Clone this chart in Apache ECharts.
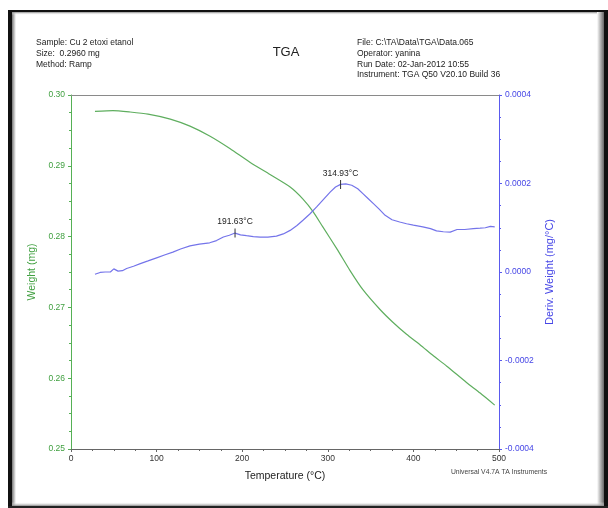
<!DOCTYPE html>
<html>
<head>
<meta charset="utf-8">
<script src="https://cdn.jsdelivr.net/npm/echarts@6/dist/echarts.min.js"></script>
<style>
html,body{margin:0;padding:0;background:#fff;}
#chart{width:608px;height:508px;}
</style>
</head>
<body>
<div id="chart"></div>
<script>
// ---- data ----
var weightTemps = [28, 49, 69, 90, 116, 139, 162, 186, 209, 232, 256, 271, 283, 294, 311, 326, 341, 361, 376, 392, 408, 423, 439, 462, 478, 495];
var weightMg    = [0.2977, 0.2978, 0.2976, 0.2973, 0.2966, 0.2956, 0.2942, 0.2924, 0.2905, 0.2888, 0.2870, 0.2853, 0.2835, 0.2814, 0.2782, 0.2752, 0.2725, 0.2697, 0.2679, 0.2662, 0.2647, 0.2632, 0.2617, 0.2594, 0.2579, 0.2562];

var derivTemps = [28, 34, 40, 46, 48, 50, 55, 60, 65, 73, 81, 90, 100, 110, 119, 128, 139, 150, 162, 170, 178, 185, 191.63, 198, 205, 213, 221, 230, 240, 248, 256, 264, 271, 279, 287, 295, 303, 309, 315, 321, 328, 335, 341, 347, 353, 360, 367, 375, 384, 392, 400, 411, 420, 427, 435, 443, 451, 460, 470, 478, 484, 490, 492, 495];
var derivVals  = [-0.05e-4, -0.01e-4, 0.00e-4, 0.00e-4, 0.01e-4, 0.07e-4, 0.02e-4, 0.03e-4, 0.08e-4, 0.13e-4, 0.19e-4, 0.25e-4, 0.32e-4, 0.39e-4, 0.45e-4, 0.52e-4, 0.59e-4, 0.63e-4, 0.66e-4, 0.71e-4, 0.79e-4, 0.83e-4, 0.88e-4, 0.84e-4, 0.82e-4, 0.80e-4, 0.79e-4, 0.79e-4, 0.81e-4, 0.86e-4, 0.94e-4, 1.05e-4, 1.17e-4, 1.31e-4, 1.47e-4, 1.64e-4, 1.81e-4, 1.92e-4, 1.98e-4, 1.99e-4, 1.96e-4, 1.88e-4, 1.77e-4, 1.66e-4, 1.55e-4, 1.42e-4, 1.28e-4, 1.18e-4, 1.13e-4, 1.09e-4, 1.06e-4, 1.02e-4, 0.98e-4, 0.93e-4, 0.91e-4, 0.90e-4, 0.96e-4, 0.96e-4, 0.98e-4, 0.99e-4, 1.00e-4, 1.03e-4, 1.06e-4, 1.02e-4];

var peakTemps  = [191.63, 314.93];
var peakDerivs = [0.88e-4, 1.98e-4];
var peakLabels = ['191.63°C', '314.93°C'];

var headerLeft  = ['Sample: Cu 2 etoxi etanol', 'Size:  0.2960 mg', 'Method: Ramp'];
var headerRight = ['File: C:\\TA\\Data\\TGA\\Data.065', 'Operator: yanina', 'Run Date: 02-Jan-2012 10:55', 'Instrument: TGA Q50 V20.10 Build 36'];
var chartTitle  = 'TGA';
var footerText  = 'Universal V4.7A TA Instruments';
var xName = 'Temperature (°C)';
var yLeftName = 'Weight (mg)';
var yRightName = 'Deriv. Weight (mg/°C)';

// ---- build ----
var weightData = weightTemps.map(function (t, i) { return [t, weightMg[i]]; });
var derivData = derivTemps.map(function (t, i) { return [t, derivVals[i]]; });
var peakPoints = peakTemps.map(function (t, i) {
  return { name: peakLabels[i], coord: [t, peakDerivs[i]] };
});

var FONT = 'Liberation Sans, Arial, sans-serif';
var GREEN = '#3f9f3f';
var BLUE = '#4646e6';

function txt(x, y, s, size, color, align) {
  return {
    type: 'text', x: x, y: y, silent: true, z: 100,
    style: { text: s, font: size + 'px ' + FONT, fill: color, align: align || 'left', textAlign: align || 'left', verticalAlign: 'middle', textVerticalAlign: 'middle' }
  };
}

var graphics = [];
// frame
graphics.push({ type: 'rect', shape: { x: 8, y: 10, width: 600, height: 2 }, style: { fill: '#111' }, silent: true });
graphics.push({ type: 'rect', shape: { x: 8, y: 10, width: 4, height: 498 }, style: { fill: '#111' }, silent: true });
graphics.push({ type: 'rect', shape: { x: 604, y: 10, width: 4, height: 498 }, style: { fill: '#111' }, silent: true });
graphics.push({ type: 'rect', shape: { x: 8, y: 506, width: 600, height: 2 }, style: { fill: '#222' }, silent: true });
graphics.push({ type: 'rect', shape: { x: 12, y: 12, width: 4, height: 494 }, silent: true,
  style: { fill: new echarts.graphic.LinearGradient(0, 0, 1, 0, [{ offset: 0, color: '#777' }, { offset: 1, color: '#fff' }]) } });
graphics.push({ type: 'rect', shape: { x: 12, y: 12, width: 592, height: 3 }, silent: true,
  style: { fill: new echarts.graphic.LinearGradient(0, 0, 0, 1, [{ offset: 0, color: '#888' }, { offset: 1, color: 'rgba(255,255,255,0)' }]) } });
graphics.push({ type: 'rect', shape: { x: 597, y: 12, width: 7, height: 494 }, silent: true,
  style: { fill: new echarts.graphic.LinearGradient(0, 0, 1, 0, [{ offset: 0, color: '#fff' }, { offset: 1, color: '#666' }]) } });
graphics.push({ type: 'rect', shape: { x: 12, y: 502, width: 592, height: 4 }, silent: true,
  style: { fill: new echarts.graphic.LinearGradient(0, 0, 0, 1, [{ offset: 0, color: 'rgba(255,255,255,0)' }, { offset: 1, color: '#888' }]) } });

headerLeft.forEach(function (s, i) { graphics.push(txt(36, 42.5 + i * 11, s, 8.5, '#222')); });
headerRight.forEach(function (s, i) { graphics.push(txt(357, 43 + i * 10.7, s, 8.5, '#222')); });
graphics.push(txt(286, 52, chartTitle, 13, '#222', 'center'));
graphics.push(txt(499, 472, footerText, 6.8, '#444', 'center'));

var chart = echarts.init(document.getElementById('chart'), null, { renderer: 'canvas' });
chart.setOption({
  animation: false,
  backgroundColor: '#fff',
  graphic: graphics,
  grid: { left: 71, right: 109, top: 95, bottom: 59, containLabel: false },
  xAxis: [{
    type: 'value', position: 'bottom', min: 0, max: 500, interval: 100,
    name: xName, nameLocation: 'middle', nameGap: 22,
    nameTextStyle: { fontFamily: FONT, fontSize: 10.5, color: '#222' },
    axisLine: { show: true, onZero: false, lineStyle: { color: '#666', width: 1 } },
    axisTick: { show: true, inside: false, length: 3, lineStyle: { color: '#666' } },
    minorTick: { show: true, splitNumber: 4, length: 2, lineStyle: { color: '#666' } },
    axisLabel: { color: '#333', fontFamily: FONT, fontSize: 8.5, margin: 5 },
    splitLine: { show: false }
  }, {
    type: 'value', position: 'top', min: 0, max: 500, interval: 100,
    axisLine: { show: true, onZero: false, lineStyle: { color: '#8a8a8a', width: 1 } },
    axisTick: { show: false }, axisLabel: { show: false }, splitLine: { show: false }
  }],
  yAxis: [{
    type: 'value', position: 'left', min: 0.25, max: 0.30, interval: 0.01,
    name: yLeftName, nameLocation: 'middle', nameGap: 23, nameRotate: 90,
    nameTextStyle: { fontFamily: FONT, fontSize: 10.5, color: GREEN },
    axisLine: { show: true, onZero: false, lineStyle: { color: '#55b055', width: 1 } },
    axisTick: { show: true, inside: false, length: 3, lineStyle: { color: '#55b055' } },
    minorTick: { show: true, splitNumber: 4, length: 2, lineStyle: { color: '#55b055' } },
    axisLabel: { color: GREEN, fontFamily: FONT, fontSize: 8.5, margin: 6, formatter: function (v) { return v.toFixed(2); } },
    splitLine: { show: false }
  }, {
    type: 'value', position: 'right', min: -0.0004, max: 0.0004, interval: 0.0002,
    name: yRightName, nameLocation: 'middle', nameGap: 30, nameRotate: 90,
    nameTextStyle: { fontFamily: FONT, fontSize: 11, color: BLUE },
    axisLine: { show: true, onZero: false, lineStyle: { color: '#5a5aee', width: 1 } },
    axisTick: { show: true, inside: false, length: 3, lineStyle: { color: '#5a5aee' } },
    minorTick: { show: true, splitNumber: 4, length: 2, lineStyle: { color: '#5a5aee' } },
    axisLabel: { color: BLUE, fontFamily: FONT, fontSize: 8.5, margin: 6, formatter: function (v) { return (Math.abs(v) < 1e-12 ? 0 : v).toFixed(4); } },
    splitLine: { show: false }
  }],
  series: [{
    type: 'line', name: 'Weight', xAxisIndex: 0, yAxisIndex: 0,
    data: weightData, showSymbol: false, smooth: 0.2,
    lineStyle: { color: '#5fae5f', width: 1.2 }, z: 3
  }, {
    type: 'line', name: 'Deriv. Weight', xAxisIndex: 0, yAxisIndex: 1,
    data: derivData, showSymbol: false, smooth: false,
    lineStyle: { color: '#7474ea', width: 1.2 }, z: 4,
    markPoint: {
      symbol: 'rect', symbolSize: [1, 9],
      itemStyle: { color: '#333' },
      label: { show: true, position: 'top', distance: 2, formatter: '{b}', color: '#222', fontFamily: FONT, fontSize: 8.5 },
      data: peakPoints
    }
  }]
});
</script>
</body>
</html>
